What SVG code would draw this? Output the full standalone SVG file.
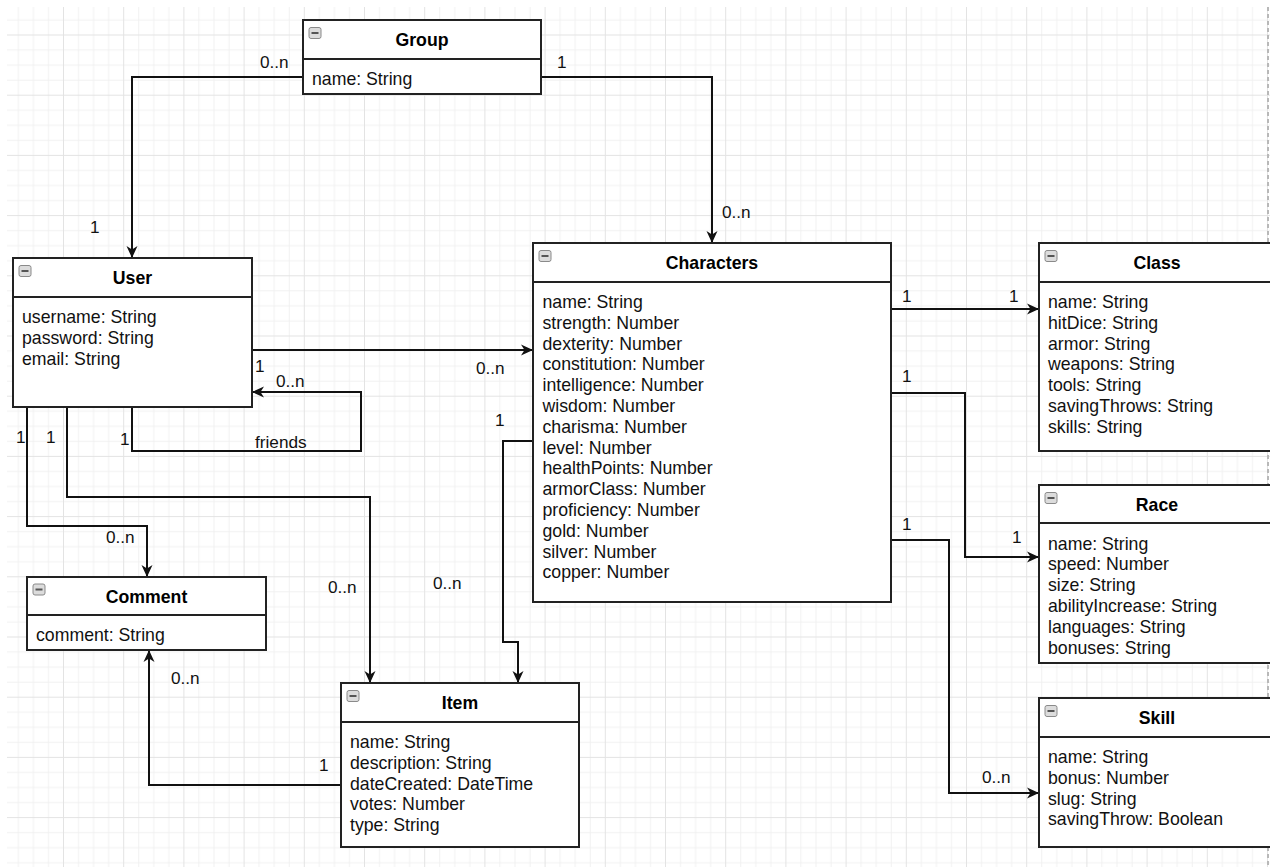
<svg xmlns="http://www.w3.org/2000/svg" width="1270" height="867" viewBox="0 0 1270 867">
<defs>
<style>
.box{fill:#fff;stroke:#222;stroke-width:2}
.div{stroke:#222;stroke-width:2}
.hd{font-family:"Liberation Sans",Arial,sans-serif;font-size:17.7px;font-weight:bold;fill:#000;text-anchor:middle}
.at{font-family:"Liberation Sans",Arial,sans-serif;font-size:17.7px;fill:#111}
.lb{font-family:"Liberation Sans",Arial,sans-serif;font-size:17.2px;fill:#111}
.ic{fill:#dcdcdc;stroke:#8a8a8a;stroke-width:1}
.icm{stroke:#555;stroke-width:2}
.cn{fill:none;stroke:#111;stroke-width:2}
.ar{fill:none;stroke:#111;stroke-width:2;marker-end:url(#arr)}
</style>
<pattern id="grid" patternUnits="userSpaceOnUse" x="2.8" y="34.5" width="60.2" height="60.2">
<path d="M0,15.55H60.2M0,30.6H60.2M0,45.65H60.2M15.55,0V60.2M30.6,0V60.2M45.65,0V60.2" stroke="#f1f1f1" stroke-width="1" fill="none"/>
<path d="M0,0.5H60.2M0.5,0V60.2" stroke="#e3e3e3" stroke-width="1" fill="none"/>
</pattern>
<marker id="arr" markerUnits="userSpaceOnUse" markerWidth="14" markerHeight="14" refX="12" refY="6" orient="auto">
<path d="M0,0.5 L12,6 L0,11.5 L3.5,6 z" fill="#111"/>
</marker>
</defs>
<rect x="0" y="0" width="1270" height="867" fill="#fff"/>
<rect x="7" y="7" width="1263" height="860" fill="url(#grid)"/>
<line x1="1268" y1="7" x2="1268" y2="867" stroke="#b8b8b8" stroke-width="2" stroke-dasharray="4,3"/>

<g id="connectors">
<path class="ar" d="M303,77 H132 V258"/>
<path class="ar" d="M541,77 H712 V243"/>
<path class="ar" d="M252,350 H533"/>
<path class="ar" d="M132,407 V451 H361 V392 H252"/>
<path class="ar" d="M27,407 V526 H147 V577"/>
<path class="ar" d="M67,407 V497 H370 V683"/>
<path class="ar" d="M533,441 H503 V642 H518 V683"/>
<path class="ar" d="M341,785 H149 V650"/>
<path class="ar" d="M891,309 H1039"/>
<path class="ar" d="M891,393 H965 V557 H1039"/>
<path class="ar" d="M891,540 H949 V793 H1039"/>
<g id="labels">
<text class="lb" x="260" y="68">0..n</text>
<text class="lb" x="90" y="233">1</text>
<text class="lb" x="557" y="68">1</text>
<text class="lb" x="722" y="218">0..n</text>
<text class="lb" x="255" y="372">1</text>
<text class="lb" x="476" y="374">0..n</text>
<text class="lb" x="276" y="387">0..n</text>
<text class="lb" x="120" y="445">1</text>
<text class="lb" x="255" y="448">friends</text>
<text class="lb" x="16" y="443">1</text>
<text class="lb" x="46" y="443">1</text>
<text class="lb" x="106" y="543">0..n</text>
<text class="lb" x="328" y="593">0..n</text>
<text class="lb" x="495" y="426">1</text>
<text class="lb" x="433" y="589">0..n</text>
<text class="lb" x="171" y="684">0..n</text>
<text class="lb" x="319" y="771">1</text>
<text class="lb" x="902" y="302">1</text>
<text class="lb" x="1009" y="302">1</text>
<text class="lb" x="902" y="382">1</text>
<text class="lb" x="1012" y="543">1</text>
<text class="lb" x="902" y="530">1</text>
<text class="lb" x="982" y="783">0..n</text>
</g>
</g>

<g id="Group">
<rect class="box" x="303" y="20" width="238" height="74"/>
<line class="div" x1="303" y1="59" x2="541" y2="59"/>
<rect class="ic" x="309" y="27.5" width="12" height="11" rx="2"/><line class="icm" x1="311.5" y1="33" x2="318.5" y2="33"/>
<text class="hd" x="422" y="46">Group</text>
<text class="at" x="312" y="85">name: String</text>
</g>

<g id="User">
<rect class="box" x="13" y="258" width="239" height="149"/>
<line class="div" x1="13" y1="297" x2="252" y2="297"/>
<rect class="ic" x="19" y="265.5" width="12" height="11" rx="2"/><line class="icm" x1="21.5" y1="271" x2="28.5" y2="271"/>
<text class="hd" x="132.5" y="284">User</text>
<text class="at" x="22" y="323">username: String<tspan x="22" dy="20.8">password: String</tspan><tspan x="22" dy="20.8">email: String</tspan></text>
</g>

<g id="Characters">
<rect class="box" x="533" y="243" width="358" height="359"/>
<line class="div" x1="533" y1="282" x2="891" y2="282"/>
<rect class="ic" x="539" y="250.5" width="12" height="11" rx="2"/><line class="icm" x1="541.5" y1="256" x2="548.5" y2="256"/>
<text class="hd" x="712" y="269">Characters</text>
<text class="at" x="542.5" y="308">name: String<tspan x="542.5" dy="20.8">strength: Number</tspan><tspan x="542.5" dy="20.8">dexterity: Number</tspan><tspan x="542.5" dy="20.8">constitution: Number</tspan><tspan x="542.5" dy="20.8">intelligence: Number</tspan><tspan x="542.5" dy="20.8">wisdom: Number</tspan><tspan x="542.5" dy="20.8">charisma: Number</tspan><tspan x="542.5" dy="20.8">level: Number</tspan><tspan x="542.5" dy="20.8">healthPoints: Number</tspan><tspan x="542.5" dy="20.8">armorClass: Number</tspan><tspan x="542.5" dy="20.8">proficiency: Number</tspan><tspan x="542.5" dy="20.8">gold: Number</tspan><tspan x="542.5" dy="20.8">silver: Number</tspan><tspan x="542.5" dy="20.8">copper: Number</tspan></text>
</g>

<g id="Class">
<rect class="box" x="1039" y="243" width="236" height="208"/>
<line class="div" x1="1039" y1="282" x2="1275" y2="282"/>
<rect class="ic" x="1045" y="250.5" width="12" height="11" rx="2"/><line class="icm" x1="1047.5" y1="256" x2="1054.5" y2="256"/>
<text class="hd" x="1157" y="269">Class</text>
<text class="at" x="1048" y="308">name: String<tspan x="1048" dy="20.8">hitDice: String</tspan><tspan x="1048" dy="20.8">armor: String</tspan><tspan x="1048" dy="20.8">weapons: String</tspan><tspan x="1048" dy="20.8">tools: String</tspan><tspan x="1048" dy="20.8">savingThrows: String</tspan><tspan x="1048" dy="20.8">skills: String</tspan></text>
</g>

<g id="Race">
<rect class="box" x="1039" y="485" width="236" height="178"/>
<line class="div" x1="1039" y1="523" x2="1275" y2="523"/>
<rect class="ic" x="1045" y="492.5" width="12" height="11" rx="2"/><line class="icm" x1="1047.5" y1="498" x2="1054.5" y2="498"/>
<text class="hd" x="1157" y="510.5">Race</text>
<text class="at" x="1048" y="549.5">name: String<tspan x="1048" dy="20.8">speed: Number</tspan><tspan x="1048" dy="20.8">size: String</tspan><tspan x="1048" dy="20.8">abilityIncrease: String</tspan><tspan x="1048" dy="20.8">languages: String</tspan><tspan x="1048" dy="20.8">bonuses: String</tspan></text>
</g>

<g id="Skill">
<rect class="box" x="1039" y="698" width="236" height="149"/>
<line class="div" x1="1039" y1="737" x2="1275" y2="737"/>
<rect class="ic" x="1045" y="705.5" width="12" height="11" rx="2"/><line class="icm" x1="1047.5" y1="711" x2="1054.5" y2="711"/>
<text class="hd" x="1157" y="724">Skill</text>
<text class="at" x="1048" y="763">name: String<tspan x="1048" dy="20.8">bonus: Number</tspan><tspan x="1048" dy="20.8">slug: String</tspan><tspan x="1048" dy="20.8">savingThrow: Boolean</tspan></text>
</g>

<g id="Comment">
<rect class="box" x="27" y="577" width="239" height="73"/>
<line class="div" x1="27" y1="615" x2="266" y2="615"/>
<rect class="ic" x="33" y="584" width="12" height="11" rx="2"/><line class="icm" x1="35.5" y1="589.5" x2="42.5" y2="589.5"/>
<text class="hd" x="146.5" y="602.5">Comment</text>
<text class="at" x="36" y="641">comment: String</text>
</g>

<g id="Item">
<rect class="box" x="341" y="683" width="238" height="164"/>
<line class="div" x1="341" y1="722" x2="579" y2="722"/>
<rect class="ic" x="347" y="690.5" width="12" height="11" rx="2"/><line class="icm" x1="349.5" y1="696" x2="356.5" y2="696"/>
<text class="hd" x="460" y="709">Item</text>
<text class="at" x="350" y="748">name: String<tspan x="350" dy="20.8">description: String</tspan><tspan x="350" dy="20.8">dateCreated: DateTime</tspan><tspan x="350" dy="20.8">votes: Number</tspan><tspan x="350" dy="20.8">type: String</tspan></text>
</g>
</svg>
